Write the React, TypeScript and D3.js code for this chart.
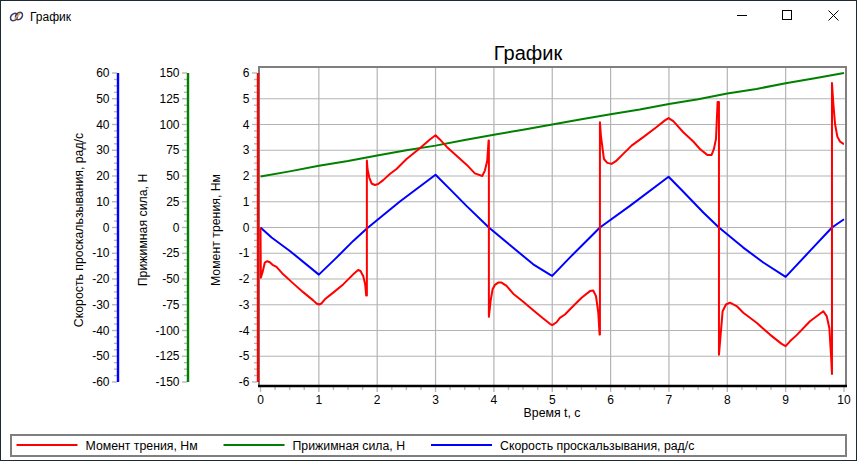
import React from "react";
import * as d3 from "d3";

const W = 857, H = 461;
const windowTitle = "График";
const chartTitle = "График";
const xLabel = "Время t, с";
const torqueName = "Момент трения, Нм";
const forceName = "Прижимная сила, Н";
const speedName = "Скорость проскальзывания, рад/с";

const torqueT = [0,0.006,0.034,0.074,0.114,0.16,0.206,0.274,0.389,0.56,0.731,0.903,0.96,1,1.046,1.103,1.246,1.417,1.589,1.674,1.714,1.76,1.794,1.811,1.823,1.823,1.834,1.863,1.903,1.96,2.017,2.103,2.217,2.331,2.503,2.731,2.903,3,3.074,3.189,3.36,3.531,3.674,3.8,3.846,3.886,3.909,3.914,3.914,3.943,3.977,4.017,4.074,4.131,4.217,4.331,4.503,4.674,4.846,4.96,5,5.074,5.131,5.217,5.36,5.503,5.646,5.703,5.749,5.789,5.811,5.817,5.817,5.834,5.863,5.886,5.943,6.017,6.103,6.217,6.36,6.56,6.789,6.931,6.994,7.074,7.246,7.417,7.531,7.657,7.731,7.771,7.806,7.834,7.857,7.857,7.886,7.92,7.977,8.046,8.16,8.274,8.503,8.731,8.931,9,9.074,9.189,9.417,9.56,9.646,9.703,9.749,9.777,9.794,9.794,9.817,9.846,9.886,9.931,9.989,10];
const torqueV = [0,-1.95,-1.75,-1.36,-1.31,-1.35,-1.45,-1.53,-1.82,-2.17,-2.51,-2.83,-2.95,-2.99,-2.95,-2.79,-2.53,-2.21,-1.82,-1.65,-1.69,-1.88,-2.21,-2.64,-2.64,2.6,2.27,1.95,1.71,1.65,1.69,1.84,2.08,2.27,2.66,3.08,3.42,3.58,3.42,3.14,2.79,2.44,2.1,2,2.21,2.6,3.38,3.38,-3.47,-2.86,-2.4,-2.23,-2.14,-2.14,-2.27,-2.57,-2.88,-3.21,-3.53,-3.74,-3.79,-3.68,-3.51,-3.38,-3.05,-2.73,-2.47,-2.45,-2.66,-3.31,-4.16,-4.16,4.09,3.57,3.05,2.66,2.51,2.47,2.6,2.86,3.18,3.51,3.9,4.16,4.25,4.13,3.7,3.34,3.05,2.82,2.82,3.05,3.44,4.87,4.87,-4.94,-4.16,-3.25,-2.99,-2.92,-3.05,-3.31,-3.7,-4.16,-4.52,-4.61,-4.42,-4.18,-3.64,-3.4,-3.25,-3.44,-3.9,-4.94,-5.69,5.61,4.81,4.03,3.53,3.34,3.25,3.25];

const forceT = [0,0.5,1,1.5,2,2.5,3,3.5,4,4.5,5,5.5,6,6.5,7,7.5,8,8.5,9,9.5,10];
const forceV = [49.5,54.5,60,64.5,70,75,79.5,85,90,95,100,105,110,114.5,120,124.5,130,134.5,140,145,150];

const speedT = [0,0.19,0.503,1,1.303,1.589,1.823,2.389,3,3.246,3.53,3.914,4.274,4.674,4.96,5,5.3,5.646,5.817,6.331,6.994,7.246,7.589,7.857,8.274,8.617,9,9.417,9.794,10];
const speedV = [0,-3.9,-9.1,-18.3,-11.7,-5.2,-0.4,10.1,20.5,14.9,8.4,0,-6.8,-14.3,-18.3,-18.8,-11.7,-3.9,0,8.4,19.7,13.9,5.8,0,-7.8,-13.6,-19.2,-9.1,0,3.2];

const torqueTicks = [-6,-5,-4,-3,-2,-1,0,1,2,3,4,5,6];
const forceTicks = [-150,-125,-100,-75,-50,-25,0,25,50,75,100,125,150];
const speedTicks = [-60,-50,-40,-30,-20,-10,0,10,20,30,40,50,60];
const timeTicks = [0,1,2,3,4,5,6,7,8,9,10];

const FONT = "'Liberation Sans', Arial, sans-serif";
const RED = "#ff0000", GREEN = "#008000", BLUE = "#0000ff";
const TICK = "#b8b8b8", GRID = "#b4b4b4", FRAME = "#7f7f7f";

const x = d3.scaleLinear().domain([0, 10]).range([260.5, 844]);
const yT = d3.scaleLinear().domain([-6, 6]).range([382, 73]);
const yF = d3.scaleLinear().domain([-150, 150]).range([382, 73]);
const yS = d3.scaleLinear().domain([-60, 60]).range([382, 73]);

const curve = (ts: number[], vs: number[], y: d3.ScaleLinear<number, number>) =>
  d3.line<number>().x((_, i) => x(ts[i])).y((v) => y(v))(vs) as string;

function minors(ticks: number[]) {
  const out: number[] = [];
  ticks.slice(0, -1).forEach((t, i) => {
    const step = (ticks[i + 1] - t) / 4;
    for (let k = 1; k < 4; k++) out.push(t + k * step);
  });
  return out;
}

function YAxis({ axisX, ticks, scale, color, label, labelX }: {
  axisX: number; ticks: number[]; scale: d3.ScaleLinear<number, number>; color: string; label: string; labelX: number;
}) {
  return (
    <g>
      {minors(ticks).map((t) => (
        <line key={t} x1={axisX - 4} x2={axisX - 1} y1={scale(t)} y2={scale(t)} stroke={TICK} strokeWidth={1.4} />
      ))}
      {ticks.map((t) => (
        <g key={t}>
          <line x1={axisX - 6} x2={axisX - 1} y1={scale(t)} y2={scale(t)} stroke={TICK} strokeWidth={1.4} />
          <text x={axisX - 8.5} y={scale(t) + 4.2} textAnchor="end" fontSize={12} fill="#000">{t}</text>
        </g>
      ))}
      <line x1={axisX} x2={axisX} y1={scale(ticks[0])} y2={scale(ticks[ticks.length - 1])} stroke={color} strokeWidth={2.4} />
      <text transform={`translate(${labelX},230) rotate(-90)`} textAnchor="middle" fontSize={12.3} fill="#000">{label}</text>
    </g>
  );
}

function LegendItem({ x1, name, color }: { x1: number; name: string; color: string }) {
  return (
    <g>
      <line x1={x1} x2={x1 + 61} y1={445} y2={445} stroke={color} strokeWidth={2} />
      <text x={x1 + 69} y={449.5} fontSize={12.3} fill="#000">{name}</text>
    </g>
  );
}

export default function App() {
  return (
    <svg width={W} height={H} viewBox={`0 0 ${W} ${H}`} fontFamily={FONT}
      style={{ position: "absolute", left: 0, top: 0, display: "block", background: "#fff" }}>
      <rect x={0.5} y={0.5} width={W - 1} height={H - 1} fill="#fff" stroke="#1d2a33" />

      {/* window chrome */}
      <g transform="translate(9,10)" fill="none" strokeWidth={1.6}>
        <ellipse cx={5} cy={7} rx={3} ry={4} stroke="#3c3a6e" transform="rotate(40 5 7)" />
        <ellipse cx={10} cy={6} rx={3} ry={4} stroke="#3c3a6e" transform="rotate(40 10 6)" />
        <line x1={6} y1={9} x2={11} y2={3} stroke="#e8a33c" />
      </g>
      <text x={30} y={20.5} fontSize={12} fill="#000">{windowTitle}</text>
      <line x1={737} x2={747} y1={15.5} y2={15.5} stroke="#000" />
      <rect x={782.5} y={10.5} width={9} height={9} fill="none" stroke="#000" />
      <path d="M828.5 10.5 L838.5 20.5 M838.5 10.5 L828.5 20.5" stroke="#000" fill="none" />

      <text x={528} y={59.5} textAnchor="middle" fontSize={20} fill="#000">{chartTitle}</text>

      {/* plot grid */}
      {torqueTicks.slice(1, -1).map((t) => (
        <line key={t} x1={259} x2={846} y1={yT(t)} y2={yT(t)} stroke={GRID} strokeWidth={1.2} />
      ))}
      {timeTicks.slice(1, -1).map((t) => (
        <line key={t} x1={x(t)} x2={x(t)} y1={67} y2={386} stroke={GRID} strokeWidth={1.2} />
      ))}
      <path d="M259 386 V67 H846 V386" fill="none" stroke={FRAME} strokeWidth={2} />

      {/* x axis */}
      {minors(timeTicks).map((t) => (
        <line key={t} x1={x(t)} x2={x(t)} y1={387} y2={390} stroke={TICK} strokeWidth={1.4} />
      ))}
      {timeTicks.map((t) => (
        <g key={t}>
          <line x1={x(t)} x2={x(t)} y1={387} y2={392} stroke={TICK} strokeWidth={1.4} />
          <text x={x(t)} y={403.5} textAnchor="middle" fontSize={12} fill="#000">{t}</text>
        </g>
      ))}
      <line x1={258} x2={847} y1={386} y2={386} stroke="#000" strokeWidth={2.4} />
      <text x={552} y={417} textAnchor="middle" fontSize={12.3} fill="#000">{xLabel}</text>

      <YAxis axisX={118} ticks={speedTicks} scale={yS} color={BLUE} label={speedName} labelX={83} />
      <YAxis axisX={188} ticks={forceTicks} scale={yF} color={GREEN} label={forceName} labelX={147} />
      <YAxis axisX={258} ticks={torqueTicks} scale={yT} color={RED} label={torqueName} labelX={220} />

      {/* series */}
      <g fill="none" strokeWidth={2} strokeLinejoin="round">
        <path d={curve(forceT, forceV, yF)} stroke={GREEN} />
        <path d={curve(speedT, speedV, yS)} stroke={BLUE} />
        <path d={curve(torqueT, torqueV, yT)} stroke={RED} />
      </g>

      {/* legend */}
      <rect x={11} y={435} width={835} height={21} fill="#fff" stroke={FRAME} strokeWidth={2} />
      <LegendItem x1={16.5} name={torqueName} color={RED} />
      <LegendItem x1={223.5} name={forceName} color={GREEN} />
      <LegendItem x1={431} name={speedName} color={BLUE} />
    </svg>
  );
}
